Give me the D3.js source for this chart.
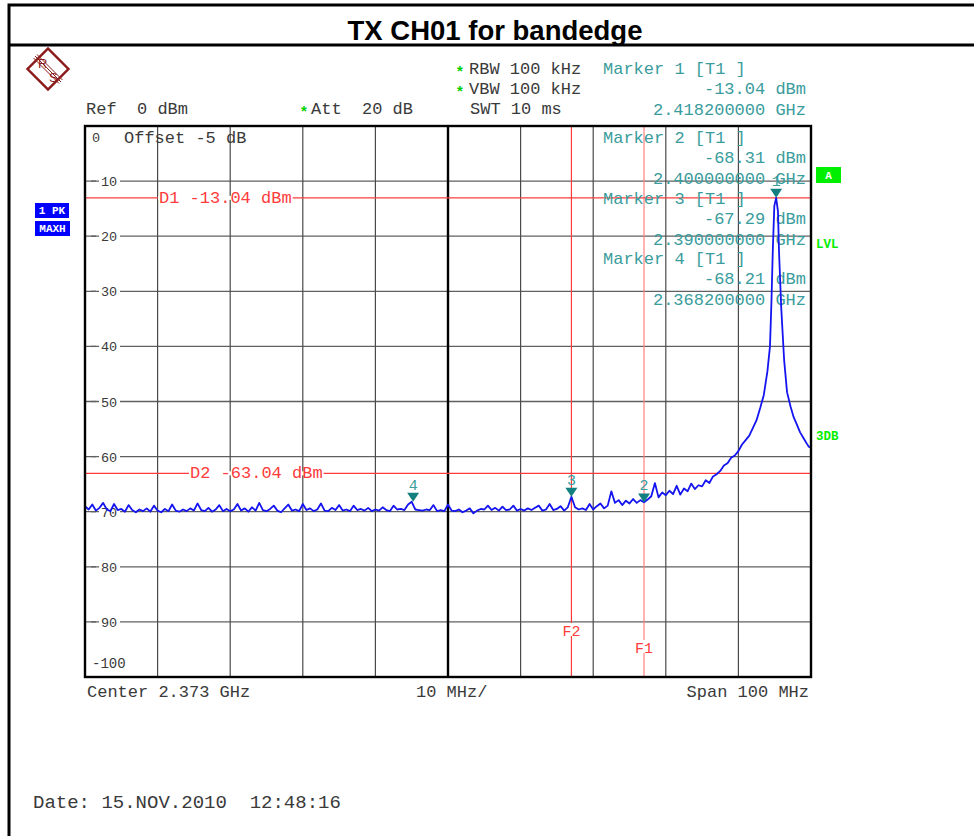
<!DOCTYPE html>
<html>
<head>
<meta charset="utf-8">
<script src="https://cdn.jsdelivr.net/npm/d3@7"></script>
<style>
  body { margin: 0; background: #fff; }
  svg { display: block; }
  .mono { font-family: "Liberation Mono", "Courier New", monospace; }
</style>
</head>
<body>
<div id="chart"></div>
<script>
// analyzer settings
var startMHz = 2323, stopMHz = 2423;
var refLevel = 0, bottomLevel = -100;
var levelTicks = [-10, -20, -30, -40, -50, -60, -70, -80, -90];
var freqGrid = [2333, 2343, 2353, 2363, 2373, 2383, 2393, 2403, 2413];

// max-hold trace, noise floor sampled every 0.5 MHz from 2323 MHz
var floorStepMHz = 0.5;
var floorLevels = [
  -69.0, -69.6, -68.7, -69.8, -69.3, -68.4, -69.6, -69.9, -68.6, -69.7,
  -69.5, -70.0, -68.8, -69.7, -70.1, -69.6, -69.9, -69.4, -70.0, -68.9,
  -69.8, -70.1, -69.5, -69.9, -68.7, -69.8, -70.0, -69.6, -69.9, -69.4,
  -69.8, -68.5, -69.7, -69.9, -69.3, -70.0, -69.6, -68.8, -69.9, -69.5,
  -69.9, -69.6, -68.6, -69.8, -69.4, -70.0, -69.2, -69.8, -68.4, -69.7,
  -69.9, -69.5, -68.9, -69.8, -70.1, -69.4, -68.7, -69.8, -69.6, -69.9,
  -68.6, -69.7, -69.4, -69.9, -69.6, -68.5, -69.8, -69.9, -69.3, -69.7,
  -68.8, -69.8, -69.6, -69.9, -68.9, -69.7, -69.5, -69.8, -69.3, -69.9,
  -69.6, -69.8, -69.2, -69.7, -69.9, -68.9, -69.6, -69.5, -69.7, -68.7,
  -68.2, -69.6, -69.7, -69.8, -69.6, -69.7, -68.8, -69.9, -69.7, -69.9,
  -68.7, -69.8, -69.9, -69.6, -70.1, -69.8, -69.4, -70.3, -69.8, -69.5,
  -69.6, -68.9, -69.7, -69.3, -69.8, -69.1, -69.7, -69.6, -68.9, -69.8,
  -69.5, -69.8, -69.4, -69.7, -69.3, -68.9, -69.8, -69.6, -68.6, -69.7,
  -69.5, -69.0, -69.8, -69.2, -67.3, -69.2, -69.6, -69.4, -69.7, -68.6,
  -69.6, -69.0, -68.5, -69.4, -68.9, -66.3, -68.4, -67.9, -68.8, -68.0,
  -68.5, -67.7, -68.4, -67.9, -68.3, -67.8, -67.2, -64.8, -67.4, -66.5,
  -67.0, -66.2, -66.8, -65.3, -66.9, -65.8, -66.3, -64.9, -65.9, -65.2,
  -65.4, -64.3, -64.8, -63.6, -63.2, -62.6, -61.6, -61.2, -60.2,
  -59.8, -59.0, -57.8, -57.0, -56.2, -54.8, -53.4, -51.2
];
// carrier around 2418.2 MHz
var carrierFreqs = [2416.5, 2417.0, 2417.35, 2417.55, 2417.75, 2417.95, 2418.2, 2418.45, 2418.6, 2418.9,
  2419.3, 2419.7, 2420.2, 2420.6, 2421.0, 2421.5, 2422.0, 2422.4, 2422.7, 2423.0];
var carrierLevels = [-48.8, -44.5, -40.0, -32.0, -22.0, -14.5, -13.04, -15.5, -23.0, -33.0,
  -42.5, -48.3, -51.0, -52.8, -54.0, -55.6, -56.7, -57.6, -58.2, -58.4];

// markers
var markerIds = [1, 2, 3, 4];
var markerFreqs = [2418.2, 2400.0, 2390.0, 2368.2];
var markerLevels = [-13.04, -68.31, -67.29, -68.21];

// display lines and frequency lines
var dLineNames = ['D1', 'D2'];
var dLineLevels = [-13.04, -63.04];
var fLineNames = ['F1', 'F2'];
var fLineFreqs = [2400, 2390];

var W = 974, H = 836;
var plot = {left: 85, right: 811, top: 126, bottom: 677};

var x = d3.scaleLinear().domain([startMHz, stopMHz]).range([plot.left, plot.right]);
var y = d3.scaleLinear().domain([refLevel, bottomLevel]).range([plot.top, plot.bottom]);

var svg = d3.select('#chart').append('svg')
    .attr('width', W)
    .attr('height', H);

var textGray = '#3a3a3a';
var teal = '#3a9c9c';
var markTeal = '#137f7f';
var red = '#ff3b3b';
var green = '#00ee00';
var fs = 17;

// outer frame + title
svg.append('path')
    .attr('d', 'M9,836 V5 H974 M9,45 H974')
    .attr('fill', 'none')
    .attr('stroke', '#000')
    .attr('stroke-width', 3);

svg.append('text')
    .attr('x', 495)
    .attr('y', 40)
    .attr('text-anchor', 'middle')
    .style('font-family', 'Liberation Sans, Arial, sans-serif')
    .style('font-weight', 'bold')
    .style('font-size', '27.5px')
    .text('TX CH01 for bandedge');

// R&S logo
var logo = svg.append('g').attr('transform', 'translate(48,69)').attr('stroke', '#8c1c1c').attr('fill', 'none');
logo.append('rect')
    .attr('x', -14.5).attr('y', -14.5).attr('width', 29).attr('height', 29)
    .attr('transform', 'rotate(45)')
    .attr('stroke-width', 2.4);
logo.append('path')
    .attr('d', 'M-13,-13 L13,13 M-11,-14.5 L14.5,11 M-14.5,-11 L11,14.5')
    .attr('stroke-width', 1);
logo.append('text').attr('x', -10).attr('y', -1).text('R')
    .attr('fill', '#8c1c1c').attr('stroke', 'none')
    .style('font-family', 'Liberation Sans, sans-serif').style('font-size', '13px');
logo.append('text').attr('x', 1).attr('y', 13).text('S')
    .attr('fill', '#8c1c1c').attr('stroke', 'none')
    .style('font-family', 'Liberation Sans, sans-serif').style('font-size', '13px');

// header texts
function mono(sel, px, color) {
    return sel.attr('class', 'mono').style('font-size', px + 'px').attr('fill', color);
}
function star(xp, yp) {
    svg.append('text').attr('x', xp).attr('y', yp + 2).text('*')
        .attr('fill', '#00d000').style('font-family', 'Liberation Sans, sans-serif')
        .style('font-size', '15px').style('font-weight', 'bold');
}
star(457, 74); star(457, 94); star(301, 114);
mono(svg.append('text').attr('x', 469).attr('y', 74), fs, textGray).attr('xml:space', 'preserve').text('RBW 100 kHz');
mono(svg.append('text').attr('x', 469).attr('y', 94), fs, textGray).attr('xml:space', 'preserve').text('VBW 100 kHz');
mono(svg.append('text').attr('x', 470).attr('y', 114), fs, textGray).attr('xml:space', 'preserve').text('SWT 10 ms');
mono(svg.append('text').attr('x', 86).attr('y', 114), fs, textGray).attr('xml:space', 'preserve').text('Ref  0 dBm');
mono(svg.append('text').attr('x', 311).attr('y', 114), fs, textGray).attr('xml:space', 'preserve').text('Att  20 dB');

// grid
var grid = svg.append('g');
grid.selectAll('line.h')
    .data(levelTicks)
    .enter().append('line')
    .attr('class', 'h')
    .attr('x1', plot.left).attr('x2', plot.right)
    .attr('y1', function(d) { return y(d); })
    .attr('y2', function(d) { return y(d); })
    .attr('stroke', '#606060').attr('stroke-width', 1.3);
grid.selectAll('line.v')
    .data(freqGrid)
    .enter().append('line')
    .attr('class', 'v')
    .attr('y1', plot.top).attr('y2', plot.bottom)
    .attr('x1', function(d) { return x(d); })
    .attr('x2', function(d) { return x(d); })
    .attr('stroke', function(d) { return d === 2373 ? '#000' : '#4a4a4a'; })
    .attr('stroke-width', function(d) { return d === 2373 ? 2.4 : 1.2; });

// level labels sitting on the grid lines
var tickLab = svg.append('g');
tickLab.selectAll('rect')
    .data(levelTicks)
    .enter().append('rect')
    .attr('x', plot.left + 14).attr('width', 21)
    .attr('y', function(d) { return y(d) - 6; })
    .attr('height', 12)
    .attr('fill', '#fff');
tickLab.selectAll('line')
    .data(levelTicks)
    .enter().append('line')
    .attr('x1', plot.left + 6).attr('x2', plot.left + 11)
    .attr('y1', function(d) { return y(d); })
    .attr('y2', function(d) { return y(d); })
    .attr('stroke', '#606060').attr('stroke-width', 1.3);
tickLab.selectAll('text')
    .data(levelTicks)
    .enter().append('text')
    .attr('class', 'mono')
    .attr('x', plot.left + 16)
    .attr('y', function(d) { return y(d) + 5; })
    .attr('fill', textGray)
    .style('font-size', '13.5px')
    .text(function(d) { return Math.abs(d); });
mono(svg.append('text').attr('x', 92).attr('y', y(refLevel) + 16), 13.5, textGray).text(String(refLevel));
mono(svg.append('text').attr('x', 92).attr('y', y(bottomLevel) - 9), 14, textGray).text(String(bottomLevel));
mono(svg.append('text').attr('x', 124).attr('y', 143), fs, textGray).text('Offset -5 dB');

// frequency lines F1/F2
fLineFreqs.forEach(function(f, i) {
    svg.append('line')
        .attr('x1', x(f)).attr('x2', x(f))
        .attr('y1', plot.top).attr('y2', plot.bottom)
        .attr('stroke', i === 0 ? '#ff8080' : red).attr('stroke-width', 1.2);
    var ly = i === 0 ? 650 : 633;
    svg.append('rect').attr('x', x(f) - 9).attr('y', ly - 10).attr('width', 18).attr('height', 13).attr('fill', '#fff');
    mono(svg.append('text').attr('x', x(f)).attr('y', ly + 3), 15, red)
        .attr('text-anchor', 'middle').text(fLineNames[i]);
});

// display lines D1/D2
var dLabX = [159, 190];
dLineLevels.forEach(function(v, i) {
    svg.append('line')
        .attr('x1', plot.left).attr('x2', plot.right)
        .attr('y1', y(v)).attr('y2', y(v))
        .attr('stroke', red).attr('stroke-width', 1.2);
    var t = mono(svg.append('text').attr('x', dLabX[i]).attr('y', y(v) + 5), fs, red)
        .attr('xml:space', 'preserve')
        .text(dLineNames[i] + ' ' + v.toFixed(2) + ' dBm');
    var bb = t.node().getBBox();
    svg.insert('rect', function() { return t.node(); })
        .attr('x', bb.x - 1).attr('y', y(v) - 2).attr('width', bb.width + 2).attr('height', 4)
        .attr('fill', '#fff');
});

// marker readouts
var readX = 603, readR = 806;
var readY = [74, 143, 204, 264];
markerIds.forEach(function(id, i) {
    var y0 = readY[i];
    mono(svg.append('text').attr('x', readX).attr('y', y0), fs, teal)
        .attr('xml:space', 'preserve').text('Marker ' + id + ' [T1 ]');
    mono(svg.append('text').attr('x', readR).attr('y', y0 + 20), fs, teal)
        .attr('text-anchor', 'end').text(markerLevels[i].toFixed(2) + ' dBm');
    mono(svg.append('text').attr('x', readR).attr('y', y0 + 40.5), fs, teal)
        .attr('text-anchor', 'end').text((markerFreqs[i] / 1000).toFixed(9) + ' GHz');
});

// trace
var trace = floorLevels.map(function(v, i) { return [startMHz + i * floorStepMHz, v]; })
    .concat(carrierFreqs.map(function(f, i) { return [f, carrierLevels[i]]; }));

var line = d3.line()
    .x(function(d) { return x(d[0]); })
    .y(function(d) { return y(d[1]); });

svg.append('path')
    .datum(trace)
    .attr('d', line)
    .attr('fill', 'none')
    .attr('stroke', '#1414f0')
    .attr('stroke-width', 1.8)
    .attr('stroke-linejoin', 'round');

// marker symbols
markerIds.forEach(function(id, i) {
    var mx = x(markerFreqs[i]), my = y(markerLevels[i]);
    svg.append('path')
        .attr('d', 'M' + (mx - 6) + ',' + (my - 9) + ' H' + (mx + 6) + ' L' + mx + ',' + my + ' Z')
        .attr('fill', markTeal);
    mono(svg.append('text').attr('x', mx).attr('y', my - 12), 15, teal)
        .attr('text-anchor', 'middle').text(id);
});

// plot frame
svg.append('rect')
    .attr('x', plot.left).attr('y', plot.top)
    .attr('width', plot.right - plot.left).attr('height', plot.bottom - plot.top)
    .attr('fill', 'none').attr('stroke', '#000').attr('stroke-width', 2.4);

// side labels
function badge(xp, yp, w, h, bg, txt) {
    svg.append('rect').attr('x', xp).attr('y', yp).attr('width', w).attr('height', h).attr('fill', bg);
    svg.append('text').attr('x', xp + w / 2).attr('y', yp + h - 4)
        .attr('text-anchor', 'middle').attr('fill', '#fff')
        .attr('class', 'mono').style('font-weight', 'bold').style('font-size', '11px')
        .attr('xml:space', 'preserve')
        .text(txt);
}
badge(35, 203, 34, 15, '#0000ff', '1 PK');
badge(35, 221, 35, 15, '#0000ff', 'MAXH');
badge(816, 167, 25, 16, green, 'A');
mono(svg.append('text').attr('x', 816).attr('y', 248), 12.5, green).style('font-weight', 'bold').text('LVL');
mono(svg.append('text').attr('x', 816).attr('y', 440), 12.5, green).style('font-weight', 'bold').text('3DB');

// bottom labels
mono(svg.append('text').attr('x', 87).attr('y', 697), fs, textGray).text('Center ' + ((startMHz + stopMHz) / 2000).toFixed(3) + ' GHz');
mono(svg.append('text').attr('x', 416).attr('y', 697), fs, textGray).text((stopMHz - startMHz) / 10 + ' MHz/');
mono(svg.append('text').attr('x', 809).attr('y', 697), fs, textGray).attr('text-anchor', 'end').text('Span ' + (stopMHz - startMHz) + ' MHz');

mono(svg.append('text').attr('x', 33).attr('y', 808), 19, textGray).attr('xml:space', 'preserve').text('Date: 15.NOV.2010  12:48:16');
</script>
</body>
</html>
